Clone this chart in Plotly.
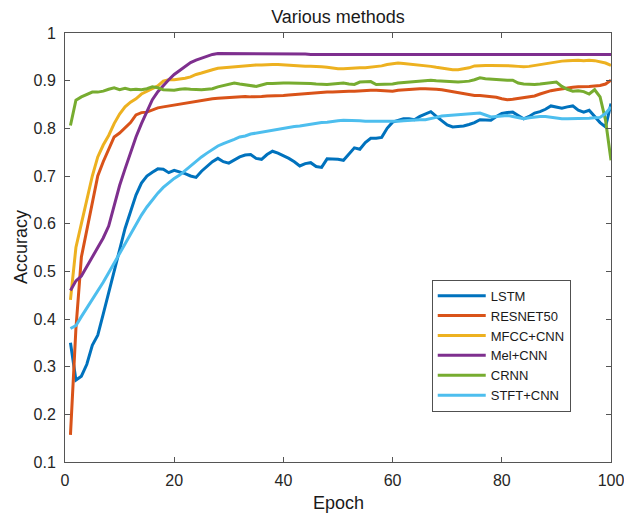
import plotly.graph_objects as go

epochs = list(range(1, 101))

lstm = [0.35, 0.272, 0.28, 0.305, 0.345, 0.366, 0.41, 0.455, 0.505, 0.55,
        0.59, 0.625, 0.66, 0.685, 0.70, 0.708, 0.715, 0.714, 0.707, 0.712,
        0.709, 0.705, 0.70, 0.697, 0.71, 0.72, 0.73, 0.737, 0.73, 0.727,
        0.733, 0.74, 0.744, 0.745, 0.737, 0.735, 0.745, 0.752, 0.748, 0.743,
        0.737, 0.73, 0.721, 0.726, 0.728, 0.72, 0.718, 0.736, 0.736, 0.735,
        0.733, 0.745, 0.759, 0.756, 0.77, 0.779, 0.779, 0.781, 0.80, 0.813,
        0.817, 0.82, 0.82, 0.818, 0.825, 0.83, 0.835, 0.825, 0.815, 0.807,
        0.803, 0.804, 0.805, 0.808, 0.812, 0.818, 0.818, 0.817, 0.825, 0.831,
        0.833, 0.834, 0.827, 0.82, 0.825, 0.832, 0.835, 0.84, 0.847, 0.845,
        0.842, 0.845, 0.847, 0.838, 0.834, 0.838, 0.825, 0.812, 0.803, 0.852]

resnet50 = [0.157, 0.38, 0.53, 0.585, 0.64, 0.70, 0.73, 0.757, 0.782, 0.79,
            0.80, 0.812, 0.828, 0.833, 0.834, 0.838, 0.843, 0.845, 0.847, 0.848,
            0.851, 0.852, 0.854, 0.856, 0.858, 0.86, 0.862, 0.863, 0.864, 0.865,
            0.866, 0.866, 0.867, 0.866, 0.866, 0.867, 0.868, 0.868, 0.869, 0.869,
            0.87, 0.871, 0.872, 0.873, 0.874, 0.874, 0.875, 0.876, 0.876, 0.877,
            0.878, 0.878, 0.878, 0.879, 0.879, 0.88, 0.88, 0.879, 0.879, 0.878,
            0.88, 0.881, 0.882, 0.883, 0.883, 0.883, 0.883, 0.882, 0.881, 0.879,
            0.876, 0.874, 0.872, 0.871, 0.869, 0.869, 0.868, 0.867, 0.865, 0.862,
            0.86, 0.861, 0.863, 0.865, 0.866, 0.868, 0.872, 0.876, 0.879, 0.881,
            0.883, 0.885, 0.886, 0.887, 0.887, 0.888, 0.889, 0.89, 0.893, 0.901]

mfcc_cnn = [0.44, 0.55, 0.60, 0.65, 0.70, 0.74, 0.765, 0.785, 0.81, 0.83,
            0.845, 0.855, 0.862, 0.872, 0.878, 0.884, 0.889, 0.899, 0.902, 0.902,
            0.903, 0.905, 0.908, 0.913, 0.916, 0.92, 0.923, 0.926, 0.927, 0.928,
            0.93, 0.931, 0.932, 0.932, 0.933, 0.933, 0.934, 0.934, 0.934, 0.933,
            0.932, 0.931, 0.93, 0.93, 0.93, 0.93, 0.929, 0.928, 0.926, 0.925,
            0.925, 0.926, 0.927, 0.927, 0.927, 0.928, 0.93, 0.931, 0.934, 0.936,
            0.937, 0.936, 0.935, 0.934, 0.933, 0.932, 0.93, 0.928, 0.926, 0.924,
            0.923, 0.923, 0.925, 0.927, 0.931, 0.932, 0.932, 0.932, 0.932, 0.932,
            0.932, 0.931, 0.93, 0.929, 0.93, 0.932, 0.934, 0.936, 0.938, 0.939,
            0.941, 0.942, 0.943, 0.943, 0.942, 0.943, 0.942, 0.94, 0.937, 0.932]

mel_cnn = [0.46, 0.48, 0.49, 0.51, 0.53, 0.55, 0.57, 0.595, 0.64, 0.68,
           0.715, 0.75, 0.782, 0.81, 0.835, 0.86, 0.877, 0.89, 0.902, 0.913,
           0.922, 0.93, 0.938, 0.943, 0.947, 0.951, 0.955, 0.957, 0.957, 0.957,
           0.957, 0.956, 0.956, 0.956, 0.956, 0.957, 0.957, 0.957, 0.957, 0.957,
           0.957, 0.956, 0.956, 0.956, 0.955, 0.955, 0.955, 0.955, 0.955, 0.955,
           0.955, 0.955, 0.955, 0.955, 0.955, 0.955, 0.955, 0.955, 0.955, 0.955,
           0.955, 0.955, 0.955, 0.955, 0.955, 0.955, 0.955, 0.955, 0.955, 0.955,
           0.955, 0.955, 0.955, 0.955, 0.955, 0.955, 0.955, 0.955, 0.955, 0.955,
           0.955, 0.955, 0.955, 0.955, 0.955, 0.955, 0.955, 0.955, 0.955, 0.955,
           0.955, 0.955, 0.955, 0.955, 0.955, 0.955, 0.955, 0.955, 0.955, 0.955]

crnn = [0.806, 0.859, 0.866, 0.871, 0.876, 0.876, 0.878, 0.882, 0.885, 0.881,
        0.884, 0.881, 0.882, 0.881, 0.883, 0.887, 0.885, 0.881, 0.88, 0.88,
        0.882, 0.883, 0.882, 0.881, 0.881, 0.882, 0.883, 0.887, 0.89, 0.893,
        0.895, 0.893, 0.891, 0.889, 0.888, 0.891, 0.894, 0.894, 0.895, 0.895,
        0.895, 0.895, 0.895, 0.895, 0.894, 0.893, 0.892, 0.892, 0.893, 0.894,
        0.895, 0.893, 0.892, 0.897, 0.898, 0.898, 0.892, 0.892, 0.892, 0.893,
        0.895, 0.896, 0.897, 0.897, 0.898, 0.899, 0.901, 0.9, 0.899, 0.898,
        0.897, 0.897, 0.898, 0.899, 0.902, 0.906, 0.904, 0.903, 0.902, 0.902,
        0.901, 0.901, 0.895, 0.893, 0.892, 0.892, 0.893, 0.894, 0.895, 0.897,
        0.888, 0.882, 0.878, 0.879, 0.877, 0.872, 0.881, 0.866, 0.817, 0.733]

stft_cnn = [0.38, 0.386, 0.405, 0.423, 0.44, 0.458, 0.477, 0.497, 0.517, 0.538,
            0.56, 0.58, 0.598, 0.618, 0.635, 0.65, 0.664, 0.676, 0.685, 0.695,
            0.702, 0.712, 0.722, 0.732, 0.74, 0.748, 0.756, 0.763, 0.768, 0.772,
            0.777, 0.782, 0.784, 0.788, 0.79, 0.792, 0.795, 0.797, 0.799, 0.8,
            0.802, 0.804, 0.805, 0.807, 0.809, 0.811, 0.812, 0.813, 0.815, 0.816,
            0.817, 0.817, 0.816, 0.816, 0.815, 0.815, 0.815, 0.814, 0.814, 0.814,
            0.815, 0.816, 0.817, 0.818, 0.818, 0.818, 0.82, 0.823, 0.826, 0.827,
            0.828, 0.829, 0.829, 0.83, 0.831, 0.832, 0.828, 0.824, 0.825, 0.826,
            0.827, 0.825, 0.822, 0.82, 0.822, 0.824, 0.825, 0.825, 0.823, 0.821,
            0.82, 0.82, 0.82, 0.82, 0.82, 0.821, 0.822, 0.823, 0.831, 0.845]

series_names = ["LSTM", "RESNET50", "MFCC+CNN", "Mel+CNN", "CRNN", "STFT+CNN"]
series_values = [lstm, resnet50, mfcc_cnn, mel_cnn, crnn, stft_cnn]
colors = ["#0072BD", "#D95319", "#EDB120", "#7E2F8E", "#77AC30", "#4DBEEE"]

x_ticks = [0, 20, 40, 60, 80, 100]
y_ticks = [0.1, 0.2, 0.3, 0.4, 0.5, 0.6, 0.7, 0.8, 0.9, 1.0]
y_tick_labels = ["0.1", "0.2", "0.3", "0.4", "0.5", "0.6", "0.7", "0.8", "0.9", "1"]

fig = go.Figure()
for name, vals, col in zip(series_names, series_values, colors):
    fig.add_trace(go.Scatter(x=epochs, y=vals, mode="lines", name=name,
                             line=dict(color=col, width=3)))

font_family = "Liberation Sans, Arial, sans-serif"
axis_color = "#555555"
text_color = "#262626"

# body margin is removed by the post script, so the figure fills the window
W, H = 624, 513
# target plot box in screenshot pixels
sx0, sx1, sy0, sy1 = 64.5, 611.0, 33.0, 462.0
L = sx0
R = W - sx1
T = sy0
B = H - sy1
plot_w = sx1 - sx0
plot_h = sy1 - sy0


def px_to_paper_x(sx):
    return (sx - sx0) / plot_w


def py_to_paper_y(sy):
    return (sy1 - sy) / plot_h


fig.update_layout(
    width=W, height=H,
    margin=dict(l=L, r=R, t=T, b=B, autoexpand=False),
    paper_bgcolor="white", plot_bgcolor="white",
    font=dict(family=font_family, size=15, color=text_color),
    title=dict(text="Various methods", x=0.5, xref="paper", xanchor="center",
               y=1 - 17 / H, yref="container", yanchor="middle",
               font=dict(size=18, color="#1a1a1a")),
    showlegend=True,
    legend=dict(x=px_to_paper_x(570.7), xanchor="right",
                y=py_to_paper_y(411.7), yanchor="bottom",
                bgcolor="white", bordercolor="#505050", borderwidth=1,
                font=dict(size=13, color="#1a1a1a"),
                itemwidth=48, tracegroupgap=0),
    annotations=[
        dict(text="Epoch", xref="paper", yref="paper", x=0.5,
             y=py_to_paper_y(503), xanchor="center", yanchor="middle",
             showarrow=False, font=dict(size=18, color="#1a1a1a")),
        dict(text="Accuracy", xref="paper", yref="paper",
             x=px_to_paper_x(20), y=0.5, xanchor="center", yanchor="middle",
             textangle=-90, showarrow=False, font=dict(size=18, color="#1a1a1a")),
    ],
)
fig.update_xaxes(range=[0, 100], tickvals=x_ticks, ticks="inside", ticklen=5,
                 showline=True, linecolor=axis_color, linewidth=1, mirror="ticks",
                 tickcolor=axis_color, showgrid=False, zeroline=False,
                 automargin=False, ticklabelstandoff=4, ticklabeloverflow="allow",
                 tickfont=dict(size=16, color=text_color))
fig.update_yaxes(range=[0.1, 1.0], tickvals=y_ticks, ticktext=y_tick_labels,
                 ticks="inside", ticklen=5,
                 showline=True, linecolor=axis_color, linewidth=1, mirror="ticks",
                 tickcolor=axis_color, showgrid=False, zeroline=False,
                 automargin=False, ticklabelstandoff=5, ticklabeloverflow="allow",
                 tickfont=dict(size=16, color=text_color))

fig.write_html("out.html",
               config={"displayModeBar": False},
               post_script="document.body.style.margin='0';document.body.style.overflow='hidden';")
